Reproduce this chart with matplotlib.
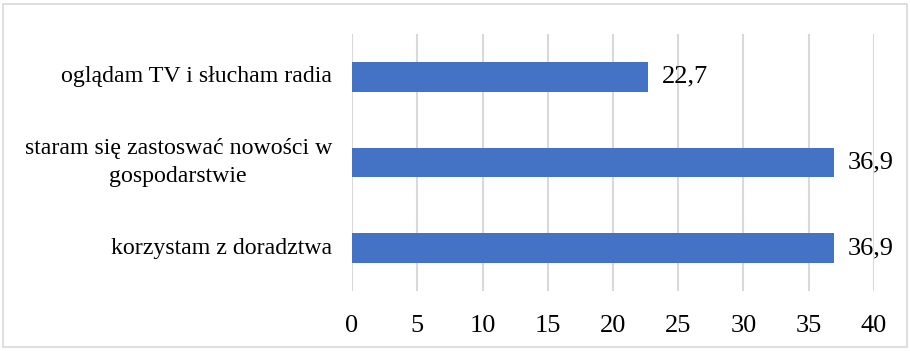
import matplotlib
matplotlib.use("Agg")
import matplotlib.pyplot as plt
from matplotlib.patches import Rectangle
from matplotlib.transforms import blended_transform_factory

categories = ["korzystam z doradztwa",
              "staram się zastoswać nowości w\ngospodarstwie",
              "oglądam TV i słucham radia"]
values = [36.9, 36.9, 22.7]
value_labels = ["36,9", "36,9", "22,7"]
xticks = [0, 5, 10, 15, 20, 25, 30, 35, 40]

plt.rcParams['font.family'] = ['Liberation Serif', 'DejaVu Serif']

fig = plt.figure(figsize=(9.1, 3.51), dpi=100)
ax = fig.add_axes([352/910, 1-291/351, (874-352)/910, (291-34)/351])

ypos = list(range(len(categories)))
ax.barh(ypos, values, height=0.35, color="#4472C4", zorder=3)
for y, v, lab in zip(ypos, values, value_labels):
    ax.annotate(lab, (v, y), xytext=(10, 0), textcoords="offset points",
                va="center", ha="left", fontsize=19, color="#000000")

ax.set_xlim(0, 40)
ax.set_ylim(-0.5, 2.5)
ax.set_xticks(xticks)
ax.set_xticklabels([str(t) for t in xticks], fontsize=19)
ax.set_yticks(ypos)
ax.set_yticklabels([])
ax.tick_params(axis="y", length=0, pad=0)
ax.tick_params(axis="x", length=0, pad=17)
ax.xaxis.grid(True, color="#d9d9d9", linewidth=1.5, zorder=0)
for s in ax.spines.values():
    s.set_visible(False)

trans = blended_transform_factory(fig.transFigure, ax.transData)
for y, c in zip(ypos, categories):
    fig.text(332/910, y, c, transform=trans, ha="right", va="center",
             fontsize=17.2, multialignment="center", linespacing=1.4)

fig.patches.append(Rectangle((3/910, 4/351), 904/910, 343/351, transform=fig.transFigure,
                             fill=False, edgecolor="#d9d9d9", linewidth=1.2))

fig.savefig("out.png", dpi=100)
